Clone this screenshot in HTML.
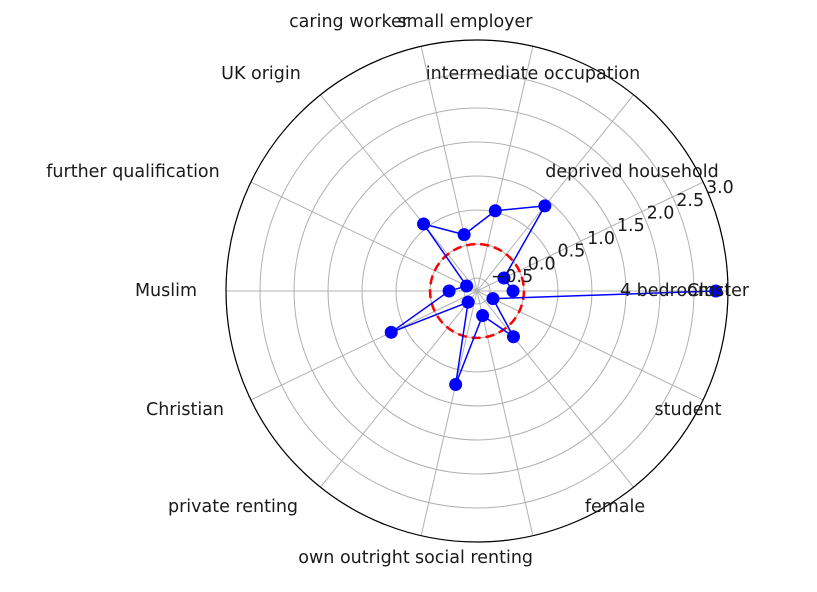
<!DOCTYPE html>
<html><head><meta charset="utf-8"><style>
html,body{margin:0;padding:0;background:#fff;width:817px;height:592px;overflow:hidden}
svg text{font-family:"DejaVu Sans","Liberation Sans",sans-serif;font-size:17.5px;fill:#1a1a1a}
</style></head><body>
<svg id="chart" width="817" height="592" viewBox="0 0 817 592" xmlns="http://www.w3.org/2000/svg">
<g id="grid"></g>
<g id="ref"></g>
<g id="series"></g>
<g id="labels"></g>
<g id="rlabels"></g>
</svg>
<script>
const categories = ["4 bedrooms","deprived household","intermediate occupation","small employer","caring worker","UK origin","further qualification","Muslim","Christian","private renting","own outright","social renting","female","student","Cluster"];
const values = [-0.16,-0.25,0.91,0.52,0.16,0.57,-0.52,-0.28,0.71,-0.48,0.72,-0.32,0.17,-0.43,2.82];
const radialTicks = [-0.5,0.0,0.5,1.0,1.5,2.0,2.5,3.0];
const radialTickLabels = ["\u22120.5","0.0","0.5","1.0","1.5","2.0","2.5","3.0"];
const labelPos = [[672,291],[632,172],[533,74],[465,22],[349,22],[261,74],[133,172],[166,291],[185,410],[233,507],[354,558],[474,558],[615,507],[688,410],[718,291]];

const NS="http://www.w3.org/2000/svg";
const cx=477, cy=291, R=251, rMin=-0.69, rMax=3.0;
const nSpokes=14;
function rScale(v){return (v-rMin)/(rMax-rMin)*R;}
function angleOf(i){return i*2*Math.PI/nSpokes;}
function pt(i,v){const a=angleOf(i),r=rScale(v);return [cx+r*Math.cos(a),cy-r*Math.sin(a)];}
function mk(tag,attrs,parent){const e=document.createElementNS(NS,tag);for(const k in attrs)e.setAttribute(k,attrs[k]);parent.appendChild(e);return e;}

const grid=document.getElementById('grid');
radialTicks.forEach((t,i)=>{
  const c=mk('circle',{cx:cx,cy:cy,r:rScale(t),fill:'none',stroke:'#b0b0b0','stroke-width':1},grid);
  
  
});
for(let i=0;i<nSpokes;i++){
  const a=angleOf(i);
  const l=mk('line',{x1:cx,y1:cy,x2:cx+R*Math.cos(a),y2:cy-R*Math.sin(a),stroke:'#b0b0b0','stroke-width':1},grid);
  
  
}
const outer=mk('circle',{cx:cx,cy:cy,r:R,fill:'none',stroke:'#000','stroke-width':1.2},grid);



const ref=mk('circle',{cx:cx,cy:cy,r:rScale(0),fill:'none',stroke:'#ff0000','stroke-width':2.5,'stroke-dasharray':'9,5'},document.getElementById('ref'));



const series=document.getElementById('series');
const pts=values.map((v,i)=>pt(i,v));
const poly=mk('polyline',{points:pts.map(p=>p.join(',')).join(' '),fill:'none',stroke:'#0000ff','stroke-width':1.5},series);


pts.forEach((p,i)=>{
  const c=mk('circle',{cx:p[0],cy:p[1],r:6.5,fill:'#0000ff'},series);
  
  
});

const labels=document.getElementById('labels');
categories.forEach((c,i)=>{
  const t=mk('text',{x:labelPos[i][0],y:labelPos[i][1],'text-anchor':'middle','dominant-baseline':'central'},labels);
  t.textContent=c;
  
  
});

const rl=document.getElementById('rlabels');
radialTicks.forEach((v,i)=>{
  const t=mk('text',{x:512+(v+0.5)*59.4,y:277-(v+0.5)*25.4,'text-anchor':'middle','dominant-baseline':'central'},rl);
  t.textContent=radialTickLabels[i];
  
  
});
</script>
</body></html>
